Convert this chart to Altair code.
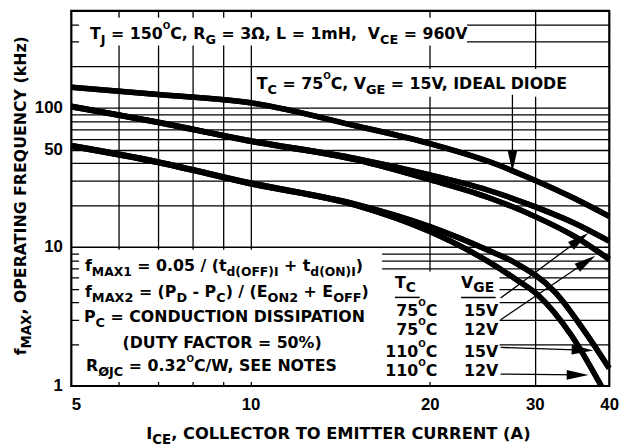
import math
import altair as alt
import pandas as pd

# ---------------- data ----------------
I_ideal = [5, 7, 10, 15, 20, 25, 30, 35, 40]
f_ideal = [141, 125, 109, 74.5, 55.5, 41.5, 30.2, 22.3, 16.6]

I_75_15 = [5, 7, 10, 15, 20, 25, 30, 35, 40]
f_75_15 = [103, 79, 58.2, 43.4, 33.0, 25.7, 19.5, 14.8, 11.0]

I_75_12 = [5, 7, 10, 15, 20, 25, 30, 35, 40]
f_75_12 = [102, 78.5, 57.5, 42.5, 30.5, 22.8, 16.6, 11.9, 8.15]

I_110_15 = [5, 7, 10, 15, 20, 25, 27.8, 32.5, 36.8, 40]
f_110_15 = [53.7, 41, 28.9, 20.3, 14.0, 9.5, 7.7, 4.7, 2.3, 1.34]

I_110_12 = [5, 7, 10, 15, 20, 25, 27.8, 30.4, 34.6, 38.8]
f_110_12 = [53, 40.5, 28.5, 20.0, 12.9, 7.9, 5.9, 4.5, 2.3, 1.0]

x_grid = [5, 6, 7, 8, 9, 10, 20, 30, 40]
x_labels = [5, 10, 20, 30, 40]
y_grid = [1, 2, 3, 4, 5, 6, 7, 8, 9, 10, 20, 30, 40, 50, 60, 70, 80, 90, 100, 200, 300, 400, 500]
y_labels = [1, 10, 50, 100]

series = [
    ("ideal", I_ideal, f_ideal),
    ("75C 15V", I_75_15, f_75_15),
    ("75C 12V", I_75_12, f_75_12),
    ("110C 15V", I_110_15, f_110_15),
    ("110C 12V", I_110_12, f_110_12),
]
rows = []
for name, xs, ys in series:
    for i, (a, b) in enumerate(zip(xs, ys)):
        rows.append({"s": name, "I": a, "f": b, "o": i})
curves = pd.DataFrame(rows)

# ---------------- layout (page pixels) ----------------
OX, OY = 72, 8          # plot origin on the page
W_PLOT, H_PLOT = 545, 380
FONT = "DejaVu Sans"

CW = {' ': .348, '!': .438, '%': 1.002, '(': .456, ')': .456, '+': .838, ',': .380, '-': .416,
      '.': .380, '/': .364, '=': .838, 'Ω': .830, 'Ø': .850}
for c in "0123456789":
    CW[c] = .696
CW.update({'A': .774, 'B': .764, 'C': .734, 'D': .830, 'E': .683, 'F': .683, 'G': .821, 'H': .836,
           'I': .372, 'J': .372, 'K': .774, 'L': .637, 'M': .995, 'N': .836, 'O': .850, 'P': .733,
           'Q': .850, 'R': .770, 'S': .720, 'T': .682, 'U': .812, 'V': .774, 'W': 1.108, 'X': .772,
           'Y': .723, 'Z': .726, 'a': .675, 'b': .716, 'c': .593, 'd': .716, 'e': .678, 'f': .435,
           'g': .716, 'h': .712, 'i': .343, 'k': .665, 'l': .343, 'm': 1.042, 'n': .712, 'o': .687,
           'p': .716, 'r': .493, 's': .595, 't': .478, 'u': .712, 'v': .652, 'w': .894, 'x': .642,
           'y': .652, 'z': .584})


def width(txt, fs):
    return sum(CW.get(c, .7) for c in txt) * fs


def rich(segs, x0, y0, size=16, sub=13.5, sup=9, subdy=5, supdy=-10, rot=False):
    out = []
    off = 0.0
    for txt, kind in segs:
        fs = {"n": size, "s": sub, "p": sup}[kind]
        dy = {"n": 0, "s": subdy, "p": supdy}[kind]
        lead = len(txt) - len(txt.lstrip(" "))
        disp = txt.strip(" ")
        wl = lead * CW[" "] * fs
        if disp:
            if rot:
                out.append({"t": disp, "x": x0 + dy - OX, "y": y0 - off - wl - OY, "sz": fs, "a": 270})
            else:
                out.append({"t": disp, "x": x0 + off + wl - OX, "y": y0 + dy - OY, "sz": fs, "a": 0})
        off += width(txt, fs)
    return out, off


texts = []
# header conditions
t, _ = rich([("T", "n"), ("J", "s"), (" = 150", "n"), ("O", "p"), ("C, R", "n"), ("G", "s"),
             (" = 3Ω, L = 1mH,", "n"), ("  V", "n"), ("CE", "s"), (" = 960V", "n")], 91, 36.5, sub=13)
texts += t
t, _ = rich([("T", "n"), ("C", "s"), (" = 75", "n"), ("O", "p"), ("C, V", "n"), ("GE", "s"),
             (" = 15V, IDEAL DIODE", "n")], 260, 87.5, sub=13)
texts += t
# formula block
t, _ = rich([("f", "n"), ("MAX1", "s"), (" = 0.05 / (t", "n"), ("d(OFF)I", "s"), (" + t", "n"),
             ("d(ON)I", "s"), (")", "n")], 86, 271.7, sub=12.5)
texts += t
t, _ = rich([("f", "n"), ("MAX2", "s"), (" = (P", "n"), ("D", "s"), (" - P", "n"), ("C", "s"),
             (") / (E", "n"), ("ON2", "s"), (" + E", "n"), ("OFF", "s"), (")", "n")], 86, 298, sub=13)
texts += t
t, _ = rich([("P", "n"), ("C", "s"), (" = CONDUCTION DISSIPATION", "n")], 85, 323.3, sub=13)
texts += t
t, _ = rich([("(DUTY FACTOR = 50%)", "n")], 124, 349.3)
texts += t
t, _ = rich([("R", "n"), ("ØJC", "s"), (" = 0.32", "n"), ("O", "p"), ("C/W, SEE NOTES", "n")],
            87, 373.3, sub=13)
texts += t
# legend table
t, _ = rich([("T", "n"), ("C", "s")], 400, 288.3, sub=14)
texts += t
t, _ = rich([("V", "n"), ("GE", "s")], 467, 288.3, sub=14)
texts += t
temps = ["75", "75", "110", "110"]
vges = ["15V", "12V", "15V", "12V"]
row_y = [316.7, 336.7, 358.3, 378.3]
for tc, vg, by in zip(temps, vges, row_y):
    segs = [(tc, "n"), ("O", "p"), ("C", "n")]
    _, w = rich(segs, 0, 0)
    t, _ = rich(segs, 443 - w, by)
    texts += t
    t, _ = rich([(vg, "n")], 470, by)
    texts += t
# axis titles
t, _ = rich([("I", "n"), ("CE", "s"), (", COLLECTOR TO EMITTER CURRENT (A)", "n")], 148, 441.5,
            size=16.5, sub=13.5)
texts += t
t, _ = rich([("f", "n"), ("MAX", "s"), (", OPERATING FREQUENCY (kHz)", "n")], 26.5, 357, rot=True)
texts += t
text_df = pd.DataFrame(texts)

# white boxes behind annotations (page px)
boxes = pd.DataFrame([
    {"x": 80, "x2": 473, "y": 15, "y2": 43},
    {"x": 256, "x2": 578, "y": 67, "y2": 95},
    {"x": 80, "x2": 387, "y": 250, "y2": 384},
    {"x": 387, "x2": 506, "y": 272, "y2": 384},
])
for c in ("x", "x2"):
    boxes[c] = boxes[c] - OX
for c in ("y", "y2"):
    boxes[c] = boxes[c] - OY

# arrows (tail -> tip, page px) and underlines
arrows = [((519, 93), (519, 171)), ((507, 299), (596, 233)), ((507, 321), (603, 256)),
          ((507, 349), (601, 352)), ((507, 376), (596, 377))]
HEAD = 22
rules, heads = [], []
for (x1, y1), (x2, y2) in arrows:
    dx, dy = x2 - x1, y2 - y1
    L = math.hypot(dx, dy)
    ux, uy = dx / L, dy / L
    cx, cy = x2 - ux * HEAD / 2, y2 - uy * HEAD / 2
    rules.append({"x": x1 - OX, "y": y1 - OY, "x2": cx - OX, "y2": cy - OY, "w": 1.3})
    heads.append({"x": cx - OX, "y": cy - OY, "a": math.degrees(math.atan2(dx, -dy)) % 360})
rules.append({"x": 400 - OX, "y": 298.3 - OY, "x2": 425 - OX, "y2": 298.3 - OY, "w": 1.5})
rules.append({"x": 467 - OX, "y": 298.3 - OY, "x2": 502 - OX, "y2": 298.3 - OY, "w": 1.5})
rule_df = pd.DataFrame(rules)
head_df = pd.DataFrame(heads)

# ---------------- chart ----------------
xl = " || ".join(f"datum.value == {v}" for v in x_labels)
yl = " || ".join(f"datum.value == {v}" for v in y_labels)

x_axis = alt.Axis(values=x_grid, grid=True, gridColor="black", gridWidth=1.3, gridOpacity=1,
                  domain=False, ticks=False, labelExpr=f"({xl}) ? '' + datum.value : ''",
                  labelFont="Liberation Sans", labelFontWeight="bold", labelFontSize=17,
                  labelColor="black", labelPadding=11, labelOverlap=False,
                  labelAlign={"condition": {"test": "datum.value <= 5", "value": "left"}, "value": "center"},
                  title="")
y_axis = alt.Axis(values=y_grid, grid=True, gridColor="black", gridWidth=1.3, gridOpacity=1,
                  domain=False, ticks=False, labelExpr=f"({yl}) ? '' + datum.value : ''",
                  labelFont="Liberation Sans", labelFontWeight="bold", labelFontSize=17,
                  labelColor="black", labelPadding=9, labelOverlap=False, title="")

lines = alt.Chart(curves).mark_line(interpolate="monotone", strokeWidth=5.5, color="black",
                                    strokeCap="butt").encode(
    x=alt.X("I:Q", scale=alt.Scale(type="log", domain=[5, 40], nice=False), axis=x_axis),
    y=alt.Y("f:Q", scale=alt.Scale(type="log", domain=[1, 500], nice=False), axis=y_axis),
    detail="s:N",
    order="o:Q",
)

rects = alt.Chart(boxes).mark_rect(color="white").encode(
    x=alt.X("x:Q", scale=None), x2="x2:Q",
    y=alt.Y("y:Q", scale=None), y2="y2:Q",
)

rule_layer = alt.Chart(rule_df).mark_rule(color="black").encode(
    x=alt.X("x:Q", scale=None), x2="x2:Q",
    y=alt.Y("y:Q", scale=None), y2="y2:Q",
    strokeWidth=alt.StrokeWidth("w:Q", scale=None),
)

head_layer = alt.Chart(head_df).mark_point(
    shape="M0,-1L0.45,1L-0.45,1Z", filled=True, color="black", opacity=1, strokeWidth=0,
    size=HEAD * HEAD).encode(
    x=alt.X("x:Q", scale=None),
    y=alt.Y("y:Q", scale=None),
    angle=alt.Angle("a:Q", scale=None),
)

text_layer = alt.Chart(text_df).mark_text(font=FONT, fontWeight="bold", align="left",
                                          baseline="alphabetic", color="black").encode(
    x=alt.X("x:Q", scale=None),
    y=alt.Y("y:Q", scale=None),
    text="t:N",
    size=alt.Size("sz:Q", scale=None),
    angle=alt.Angle("a:Q", scale=None),
)

chart = alt.layer(lines, rects, lines, rule_layer, head_layer, text_layer).properties(
    width=W_PLOT, height=H_PLOT,
    autosize=alt.AutoSizeParams(type="none"),
    padding={"left": 64, "top": 0, "right": 13, "bottom": 60},
).configure_view(stroke="black", strokeWidth=2)

chart.save("out.html", embed_options={"renderer": "svg", "actions": False})
